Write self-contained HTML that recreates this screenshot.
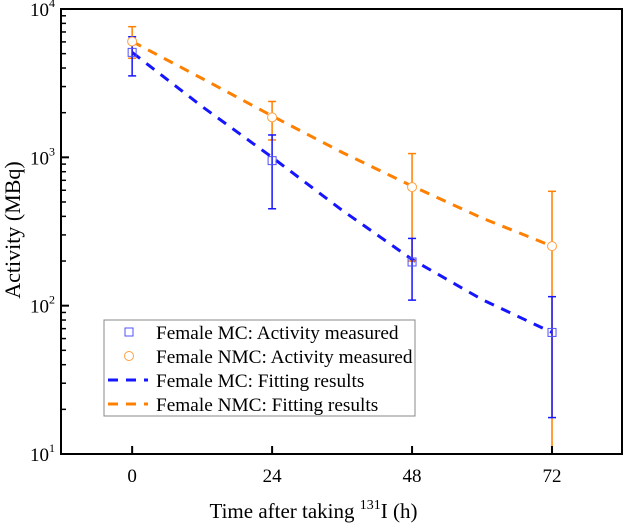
<!DOCTYPE html>
<html><head><meta charset="utf-8"><style>
html,body{margin:0;background:#fff;overflow:hidden;width:624px;height:530px}
svg{font-family:"Liberation Serif",serif;display:block}
</style></head><body>
<svg id="c" width="624" height="530" xmlns="http://www.w3.org/2000/svg"></svg>
<script>
const hours=[0,24,48,72];
const mcVal=[5100,950,197,66];
const mcLo=[3540,450,109,17.6];
const mcHi=[6500,1415,284,115];
const nmcVal=[6040,1860,630,252];
const nmcLo=[4660,1310,200,10];
const nmcHi=[7600,2380,1060,590];
const fitHours=[0,12,24,36,48,60,72];
const mcFit=[5100,2200,1000,440,205,110,66];
const nmcFit=[6040,3400,1900,1080,640,390,252];
const xTicks=[0,24,48,72];
const yTicks=[1,2,3,4];
const L=61,R=622,T=9,B=454;
const X=h=>L+(h+12.2)/(96.2)*(R-L);
const Y=v=>B-(Math.log10(Math.max(v,10))-1)/3*(B-T);
const svg=document.getElementById('c');
const NS='http://www.w3.org/2000/svg';
function mk(t,a,p){const e=document.createElementNS(NS,t);for(const k in a)e.setAttribute(k,a[k]);(p||svg).appendChild(e);return e;}
const clip=mk('clipPath',{id:'pc'});mk('rect',{x:L,y:T,width:R-L,height:B-T},clip);
const g=mk('g',{'clip-path':'url(#pc)'});


function fit(vals,col,name){const d=fitHours.map((h,i)=>(i?'L':'M')+X(h)+','+Y(vals[i])).join(' ');
const p=mk('path',{d:d,fill:'none',stroke:col,'stroke-width':3,'stroke-dasharray':'10 8'},g);

}
fit(nmcFit,'#ff8000','nmc-fit-line');
fit(mcFit,'#1515ff','mc-fit-line');
function errs(v,lo,hi,col,name){hours.forEach((h,i)=>{const x=X(h);
const e=mk('g',{stroke:col,'stroke-width':1.5},g);


mk('line',{x1:x,x2:x,y1:Y(lo[i]),y2:Y(hi[i])},e);
mk('line',{x1:x-4,x2:x+4,y1:Y(lo[i]),y2:Y(lo[i])},e);
mk('line',{x1:x-4,x2:x+4,y1:Y(hi[i]),y2:Y(hi[i])},e);});}
errs(nmcVal,nmcLo,nmcHi,'#ff8000','nmc');
errs(mcVal,mcLo,mcHi,'#1515ff','mc');
hours.forEach((h,i)=>{
const c=mk('circle',{cx:X(h),cy:Y(nmcVal[i]),r:4.5,fill:'#fff',stroke:'#ffa040','stroke-width':1},g);


const s=mk('rect',{x:X(h)-4,y:Y(mcVal[i])-4,width:8,height:8,fill:'none',stroke:'#5050ff','stroke-width':1},g);

});
const f=mk('rect',{x:L,y:T,width:R-L,height:B-T,fill:'none',stroke:'#000','stroke-width':2});


xTicks.forEach(t=>{const x=X(t);mk('line',{x1:x,x2:x,y1:B,y2:B-8,stroke:'#000','stroke-width':2});
const tx=mk('text',{x:x,y:B+28,'font-size':19,'text-anchor':'middle'});tx.textContent=t;

});
yTicks.forEach(p=>{const y=Y(Math.pow(10,p));mk('line',{x1:L,x2:L+8,y1:y,y2:y,stroke:'#000','stroke-width':2});
const tx=mk('text',{x:L-6,y:y+7,'font-size':19,'text-anchor':'end'});tx.innerHTML='10<tspan dy="-9" font-size="12">'+p+'</tspan>';


if(p<4)for(let m=2;m<10;m++){const yy=Y(m*Math.pow(10,p));mk('line',{x1:L,x2:L+5,y1:yy,y2:yy,stroke:'#000','stroke-width':1.5});}});
const xt=mk('text',{x:(L+R)/2-28,y:518,'font-size':21,'text-anchor':'middle'});
xt.innerHTML='Time after taking <tspan dy="-9" font-size="14">131</tspan><tspan dy="9">I (h)</tspan>';


const yt=mk('text',{x:0,y:0,'font-size':22,'text-anchor':'middle',transform:'translate(20,230) rotate(-90)'});
yt.textContent='Activity (MBq)';


const lg=mk('g',{});


mk('rect',{x:104,y:320,width:311,height:96,fill:'#fff',stroke:'#888','stroke-width':1},lg);
const labels=['Female MC: Activity measured','Female NMC: Activity measured','Female MC: Fitting results','Female NMC: Fitting results'];
labels.forEach((t,i)=>{const y=332+i*24;
const e=mk('g',{},lg);


if(i==0)mk('rect',{x:125,y:y-4,width:8,height:8,fill:'none',stroke:'#5050ff'},e);
if(i==1)mk('circle',{cx:129,cy:y,r:4.5,fill:'none',stroke:'#ffa040'},e);
if(i>=2)mk('line',{x1:108,x2:148,y1:y,y2:y,stroke:i==2?'#1515ff':'#ff8000','stroke-width':3,'stroke-dasharray':'10 8'},e);
const tx=mk('text',{x:156,y:y+7,'font-size':19.3},e);tx.textContent=t;});
</script>
</body></html>
